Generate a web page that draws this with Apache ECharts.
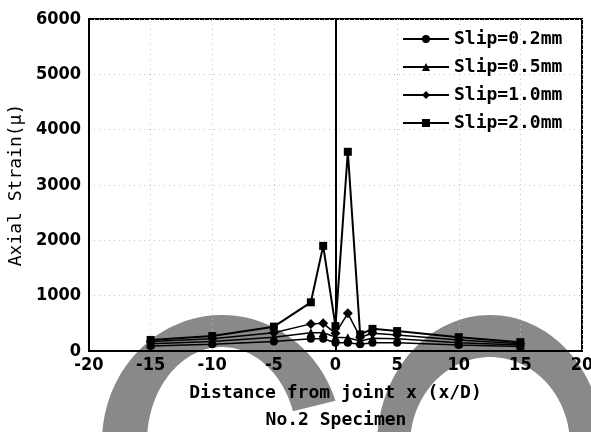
<!DOCTYPE html>
<html>
<head>
<meta charset="utf-8">
<script src="https://cdn.jsdelivr.net/npm/echarts@6/dist/echarts.min.js"></script>
<style>
    html, body {margin: 0; padding: 0; background: #fff;}
    #chartBlock {width: 591px; height: 432px;}
</style>
</head>
<body>
<div id="chartBlock"></div>
<script>
// distance from joint (x/D)
const distance = [-15, -10, -5, -2, -1, 0, 1, 2, 3, 5, 10, 15];

// axial strain readings, one array per slip level
const slip02 = [90, 120, 170, 220, 220, 150, 150, 120, 150, 150, 110, 80];
const slip05 = [130, 170, 250, 330, 330, 250, 240, 180, 230, 220, 150, 110];
const slip10 = [170, 220, 330, 490, 500, 320, 680, 250, 320, 290, 200, 130];
const slip20 = [200, 270, 440, 880, 1900, 450, 3600, 300, 400, 360, 250, 160];

const seriesNames = ['Slip=0.2mm', 'Slip=0.5mm', 'Slip=1.0mm', 'Slip=2.0mm'];
const xTicks = [-20, -15, -10, -5, 0, 5, 10, 15, 20];
const yTicks = [0, 1000, 2000, 3000, 4000, 5000, 6000];

const chartBlock = document.querySelector('#chartBlock');

function pairUp(values) {
    return distance.map((x, i) => [x, values[i]]);
}

// grey arc bands lying under the chart
function bandPoints(cx, cy, rx, ry, rx0, ry0, a0, a1) {
    let pts = [];
    const n = 80;
    for (let i = 0; i <= n; i++) {
        let a = a0 + (a1 - a0) * i / n;
        pts.push([cx + rx * Math.cos(a), cy + ry * Math.sin(a)]);
    }
    for (let i = n; i >= 0; i--) {
        let a = a0 + (a1 - a0) * i / n;
        pts.push([cx + rx0 * Math.cos(a), cy + ry0 * Math.sin(a)]);
    }
    return pts;
}

const labelFont = {
    color: '#000',
    fontFamily: 'DejaVu Sans Condensed',
    fontWeight: 'bold',
    fontSize: 18,
    formatter: value => String(value)
};

function makeSeries(name, values, symbol, size, width) {
    return {
        name: name,
        type: 'line',
        data: pairUp(values),
        symbol: symbol,
        symbolSize: size,
        itemStyle: {color: '#000'},
        lineStyle: {color: '#000', width: width},
        z: 3
    };
}

let series = [
    makeSeries(seriesNames[0], slip02, 'circle', 8, 1.5),
    makeSeries(seriesNames[1], slip05, 'triangle', 9, 1.5),
    makeSeries(seriesNames[2], slip10, 'diamond', 10, 1.5),
    makeSeries(seriesNames[3], slip20, 'rect', 8, 2)
];

// solid line at the joint (x = 0)
series[0].markLine = {
    silent: true,
    symbol: 'none',
    label: {show: false},
    lineStyle: {color: '#000', type: 'solid', width: 2},
    data: [{xAxis: 0}]
};

let option = {
    animation: false,
    backgroundColor: '#fff',
    grid: {
        left: 89, right: 9, top: 19, bottom: 81,
        outerBoundsMode: 'none',
        containLabel: false,
        show: true,
        borderColor: '#000',
        borderWidth: 2
    },
    legend: {
        orient: 'vertical',
        left: 397,
        top: 25,
        itemWidth: 46,
        itemHeight: 10,
        itemGap: 10,
        data: seriesNames,
        textStyle: {
            color: '#000',
            fontFamily: 'DejaVu Sans Mono',
            fontWeight: 'bold',
            fontSize: 18
        }
    },
    xAxis: {
        type: 'value',
        min: xTicks[0],
        max: xTicks[xTicks.length - 1],
        interval: 5,
        name: 'Distance from joint x (x/D)',
        nameLocation: 'middle',
        nameGap: 33,
        nameTextStyle: {
            color: '#000',
            fontFamily: 'DejaVu Sans Mono',
            fontWeight: 'bold',
            fontSize: 18
        },
        axisLine: {onZero: false, lineStyle: {color: '#000', width: 2}},
        axisTick: {show: false},
        axisLabel: Object.assign({margin: 5}, labelFont),
        splitLine: {lineStyle: {color: '#c4c4c4', type: [1, 4], width: 1}}
    },
    yAxis: {
        type: 'value',
        min: yTicks[0],
        max: yTicks[yTicks.length - 1],
        interval: 1000,
        name: 'Axial Strain(μ)',
        nameLocation: 'middle',
        nameRotate: 90,
        nameGap: 60,
        nameTextStyle: {
            color: '#000',
            fontFamily: 'DejaVu Sans Mono',
            fontSize: 18
        },
        axisLine: {onZero: false, lineStyle: {color: '#000', width: 2}},
        axisTick: {show: false},
        axisLabel: Object.assign({margin: 8}, labelFont),
        splitLine: {lineStyle: {color: '#c4c4c4', type: [1, 4], width: 1}}
    },
    graphic: [
        {
            type: 'polygon',
            silent: true,
            z: -10,
            shape: {points: bandPoints(222, 442, 120, 127, 75, 95, Math.PI * 0.95, Math.PI * 2 - 0.33)},
            style: {fill: '#898989'}
        },
        {
            type: 'polygon',
            silent: true,
            z: -10,
            shape: {points: bandPoints(490, 445, 113, 130, 80, 88, Math.PI * 0.9, Math.PI * 2.1)},
            style: {fill: '#898989'}
        },
        {
            type: 'text',
            x: 336,
            y: 420,
            z: 10,
            style: {
                text: 'No.2 Specimen',
                fill: '#000',
                fontFamily: 'DejaVu Sans Mono',
                fontWeight: 'bold',
                fontSize: 18,
                textAlign: 'center',
                textVerticalAlign: 'middle'
            }
        }
    ],
    series: series
};

let myChart = echarts.init(chartBlock);
myChart.setOption(option);
</script>
</body>
</html>
